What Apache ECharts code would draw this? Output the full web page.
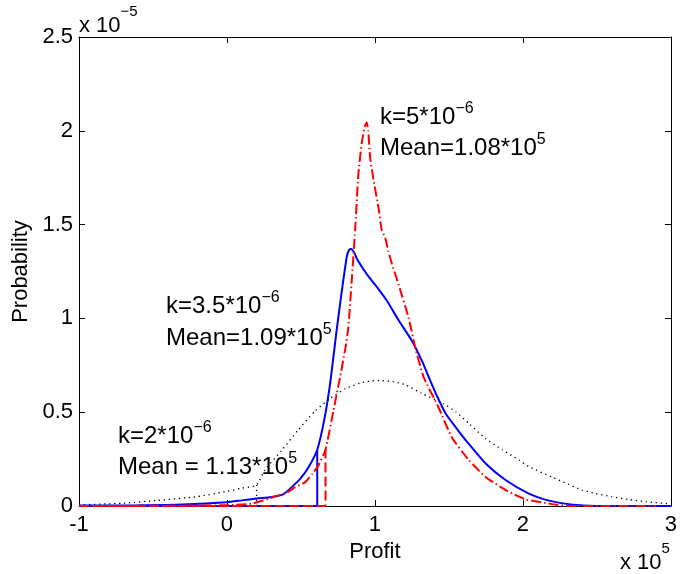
<!DOCTYPE html>
<html>
<head>
<meta charset="utf-8">
<script src="https://cdn.jsdelivr.net/npm/echarts@6/dist/echarts.min.js"></script>
<style>html,body{margin:0;padding:0;background:#fff;}#c{width:680px;height:574px;}</style>
</head>
<body>
<div id="c"></div>
<script>
// ---- data (Profit in units of 1e5, Probability in units of 1e-5) ----
var xTicks = [-1, 0, 1, 2, 3];
var yTicks = ['0', '0.5', '1', '1.5', '2', '2.5'];

// k = 2e-6 (black dotted)
var profitK2 = [-1.0, -0.7, -0.47, -0.2, 0.0, 0.1, 0.2, 0.255, 0.368, 0.481, 0.594, 0.70, 0.80, 0.90, 0.98, 1.05, 1.12, 1.2, 1.317, 1.464, 1.55, 1.634, 1.747, 1.86, 1.973, 2.04, 2.2, 2.31, 2.4, 2.49, 2.6, 2.71, 2.83, 2.99];
var probK2   = [0.006, 0.015, 0.03, 0.05, 0.078, 0.095, 0.112, 0.19, 0.295, 0.405, 0.505, 0.575, 0.625, 0.655, 0.667, 0.668, 0.663, 0.648, 0.6, 0.545, 0.5, 0.44, 0.36, 0.3, 0.245, 0.21, 0.153, 0.115, 0.085, 0.067, 0.05, 0.035, 0.023, 0.012];
var profitK2Step = [0.2, 0.2];
var probK2Step   = [0, 0.112];

// k = 3.5e-6 (blue solid)
var profitK35 = [-1.0, -0.6, -0.3, 0.0, 0.1, 0.2, 0.3, 0.38, 0.45, 0.5, 0.55, 0.61, 0.66, 0.70, 0.74, 0.775, 0.81, 0.825, 0.84, 0.86, 0.88, 0.92, 0.96, 1.02, 1.08, 1.16, 1.25, 1.32, 1.37, 1.42, 1.48, 1.56, 1.63, 1.75, 1.88, 2.04, 2.17, 2.31, 2.45, 2.6, 3.0];
var probK35   = [0.002, 0.004, 0.008, 0.02, 0.03, 0.04, 0.048, 0.062, 0.11, 0.15, 0.205, 0.30, 0.47, 0.67, 0.93, 1.14, 1.33, 1.365, 1.37, 1.35, 1.315, 1.265, 1.22, 1.16, 1.095, 0.99, 0.88, 0.77, 0.675, 0.585, 0.49, 0.405, 0.335, 0.225, 0.14, 0.066, 0.03, 0.01, 0.002, 0, 0];
var profitK35Step = [-1, 0.61, 0.61];
var probK35Step   = [0, 0, 0.30];

// k = 5e-6 (red dash-dot)
var profitK5 = [-1.0, -0.5, 0.0, 0.165, 0.323, 0.414, 0.46, 0.527, 0.575, 0.617, 0.666, 0.72, 0.765, 0.80, 0.82, 0.843, 0.866, 0.888, 0.91, 0.93, 0.944, 0.955, 0.967, 0.99, 1.024, 1.046, 1.069, 1.09, 1.115, 1.16, 1.227, 1.272, 1.33, 1.43, 1.52, 1.634, 1.747, 1.883, 2.02, 2.2, 2.3, 2.9];
var probK5   = [0, 0.001, 0.004, 0.012, 0.05, 0.075, 0.1, 0.126, 0.17, 0.215, 0.30, 0.51, 0.69, 0.84, 0.95, 1.2, 1.47, 1.77, 1.93, 2.02, 2.045, 2.0, 1.86, 1.74, 1.59, 1.47, 1.43, 1.36, 1.29, 1.18, 1.005, 0.845, 0.685, 0.525, 0.365, 0.245, 0.155, 0.085, 0.035, 0.01, 0, 0];
var profitK5Step = [-1, 0.666, 0.666];
var probK5Step   = [0, 0, 0.30];

function zip(xs, ys) { return xs.map(function (x, i) { return [x, ys[i]]; }); }

var FONT = '"Liberation Sans", Arial, Helvetica, sans-serif';

var chart = echarts.init(document.getElementById('c'), null, { renderer: 'canvas' });

function axisBase(extra) {
  var a = {
    type: 'value',
    axisLine: { show: true, onZero: false, lineStyle: { color: '#000', width: 1 } },
    axisTick: { show: true, inside: true, length: 6, lineStyle: { color: '#000', width: 1 } },
    splitLine: { show: false }
  };
  for (var k in extra) a[k] = extra[k];
  return a;
}

function annot(x, y, main, sup, size, supSize, lh) {
  return {
    type: 'text', x: x, y: y, silent: true,
    style: {
      text: '{m|' + main + '}{s|' + sup + '}',
      align: 'left', verticalAlign: 'top',
      rich: {
        m: { fontSize: size, fontFamily: FONT, fill: '#000', lineHeight: lh, verticalAlign: 'bottom' },
        s: { fontSize: supSize, fontFamily: FONT, fill: '#000', verticalAlign: 'top' }
      }
    }
  };
}

var option = {
  animation: false,
  backgroundColor: '#fff',
  grid: { left: 79, right: 7, top: 37, bottom: 68, containLabel: false },
  xAxis: [
    axisBase({
      position: 'bottom', min: xTicks[0], max: xTicks[xTicks.length - 1], interval: 1,
      axisLabel: { show: true, fontSize: 22, color: '#000', fontFamily: FONT, margin: 8 },
      name: 'Profit', nameLocation: 'middle', nameGap: 31,
      nameTextStyle: { fontSize: 22, color: '#000', fontFamily: FONT }
    }),
    axisBase({
      position: 'top', min: xTicks[0], max: xTicks[xTicks.length - 1], interval: 1,
      axisLabel: { show: false }
    })
  ],
  yAxis: [
    axisBase({
      position: 'left', min: 0, max: Number(yTicks[yTicks.length - 1]), interval: 0.5,
      axisLabel: { show: true, fontSize: 22, color: '#000', fontFamily: FONT, margin: 6,
        formatter: function (v) { var i = Math.round(v / 0.5); return yTicks[i] !== undefined ? yTicks[i] : String(v); } },
      name: 'Probability', nameLocation: 'middle', nameGap: 45, nameRotate: 90,
      nameTextStyle: { fontSize: 22, color: '#000', fontFamily: FONT }
    }),
    axisBase({
      position: 'right', min: 0, max: Number(yTicks[yTicks.length - 1]), interval: 0.5,
      axisLabel: { show: false }
    })
  ],
  series: [
    { type: 'line', xAxisIndex: 0, yAxisIndex: 0, data: zip(profitK2, probK2), showSymbol: false, smooth: 0.2,
      lineStyle: { color: '#000', width: 1.3, type: [1.3, 3.7] }, z: 2 },
    { type: 'line', xAxisIndex: 0, yAxisIndex: 0, data: zip(profitK2Step, probK2Step), showSymbol: false,
      lineStyle: { color: '#000', width: 1.3, type: [1.3, 3.7] }, z: 2 },
    { type: 'line', xAxisIndex: 0, yAxisIndex: 0, data: zip(profitK35, probK35), showSymbol: false, smooth: 0.2,
      lineStyle: { color: '#0000ff', width: 2, type: 'solid' }, z: 3 },
    { type: 'line', xAxisIndex: 0, yAxisIndex: 0, data: zip(profitK35Step, probK35Step), showSymbol: false,
      lineStyle: { color: '#0000ff', width: 2, type: 'solid' }, z: 3 },
    { type: 'line', xAxisIndex: 0, yAxisIndex: 0, data: zip(profitK5, probK5), showSymbol: false, smooth: 0.15,
      lineStyle: { color: '#ff0000', width: 2, type: [10, 3, 1.5, 3] }, z: 4 },
    { type: 'line', xAxisIndex: 0, yAxisIndex: 0, data: zip(profitK5Step, probK5Step), showSymbol: false,
      lineStyle: { color: '#ff0000', width: 2, type: [10, 4] }, z: 4 }
  ],
  graphic: [
    annot(380, 101, 'k=5*10', '\u22126', 24, 16, 28),
    annot(380, 132, 'Mean=1.08*10', '5', 24, 16, 28),
    annot(166, 290, 'k=3.5*10', '\u22126', 24, 16, 28),
    annot(166, 322, 'Mean=1.09*10', '5', 24, 16, 28),
    annot(118, 420, 'k=2*10', '\u22126', 24, 16, 28),
    annot(118, 451, 'Mean = 1.13*10', '5', 24, 16, 28),
    annot(79, 4, 'x 10', '\u22125', 22, 15, 33),
    annot(620, 541, 'x 10', '5', 22, 15, 33)
  ]
};
chart.setOption(option);
</script>
</body>
</html>
